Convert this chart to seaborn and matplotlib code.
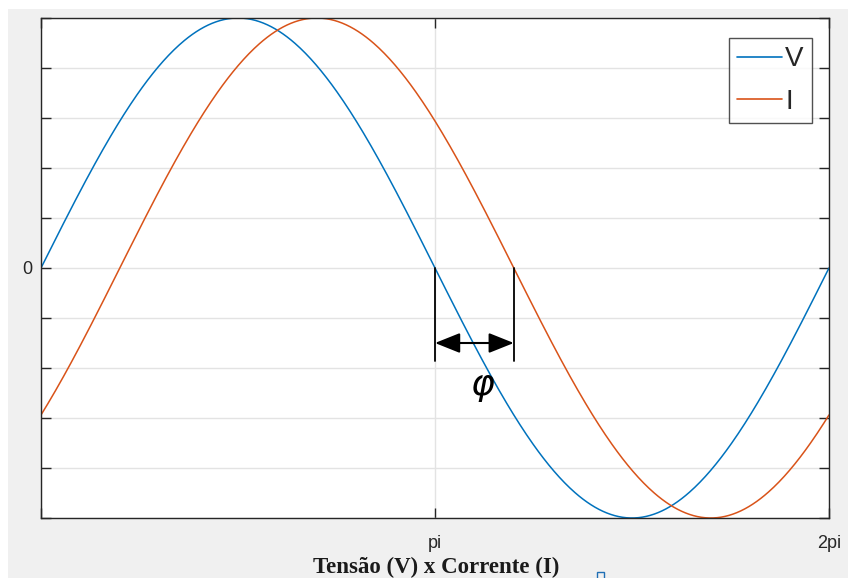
import numpy as np
import pandas as pd
import matplotlib
matplotlib.use("Agg")
import matplotlib.pyplot as plt
import seaborn as sns
from matplotlib.patches import Rectangle

# ---- data ----
series_names = ["V", "I"]
amplitudes = [1.0, 1.0]
phase_shifts = [0.0, 0.2 * np.pi]        # I lags V by phi ~ pi/5
x_ticks = [0, np.pi, 2 * np.pi]
x_tick_labels = ["", "pi", "2pi"]
y_ticks = [-1.0, -0.8, -0.6, -0.4, -0.2, 0.0, 0.2, 0.4, 0.6, 0.8, 1.0]
y_tick_labels = ["", "", "", "", "", "0", "", "", "", "", ""]
title_text = "Tensão (V) x Corrente (I)"
phi_label = r"$\varphi$"

x = np.linspace(0, 2 * np.pi, 600)
frames = []
for name, amp, ph in zip(series_names, amplitudes, phase_shifts):
    frames.append(pd.DataFrame({"x": x, "y": amp * np.sin(x - ph), "serie": name}))
df = pd.concat(frames, ignore_index=True)

colors = {"V": "#0072BD", "I": "#D95319"}

sns.set_theme(style="white")
plt.rcParams["font.family"] = ["Liberation Sans", "DejaVu Sans"]

W, H = 848, 578
fig = plt.figure(figsize=(W / 100, H / 100), dpi=100, facecolor="white")
# gray MATLAB-like figure background
fig.patches.append(Rectangle((8 / W, 0), 1, 1 - 9 / H, transform=fig.transFigure,
                             facecolor="#f0f0f0", edgecolor="none", zorder=-10))

ax = fig.add_axes([41 / W, (H - 518) / H, (829 - 41) / W, (518 - 18) / H])
ax.set_facecolor("white")

sns.lineplot(data=df, x="x", y="y", hue="serie", palette=colors, ax=ax,
             linewidth=1.1, legend=False, sort=False, estimator=None)

ax.set_xlim(0, 2 * np.pi)
ax.set_ylim(-1, 1)
ax.set_xticks(x_ticks)
ax.set_xticklabels(x_tick_labels)
ax.set_yticks(y_ticks)
ax.set_yticklabels(y_tick_labels)
ax.set_xlabel("")
ax.set_ylabel("")
ax.grid(True, color="#e3e3e3", linewidth=1.0)
ax.set_axisbelow(True)
ax.tick_params(axis="both", direction="in", length=7, width=1, color="#262626",
               labelsize=13, labelcolor="#262626", top=True, right=True,
               bottom=True, left=True)
ax.tick_params(axis="x", pad=12)
ax.tick_params(axis="y", pad=6.5)
for s in ax.spines.values():
    s.set_visible(True)
    s.set_color("#262626")
    s.set_linewidth(1.0)

# phase annotation
phi = phase_shifts[1]
ax.plot([np.pi, np.pi], [0, -0.37], color="black", lw=1.3)
ax.plot([np.pi + phi, np.pi + phi], [0, -0.37], color="black", lw=1.3)
ax.annotate("", xy=(np.pi, -0.30), xytext=(np.pi + phi, -0.30),
            arrowprops=dict(arrowstyle="<|-|>,head_length=0.7,head_width=0.28",
                            color="black", lw=1.5,
                            mutation_scale=22, shrinkA=0, shrinkB=0))
ax.text(np.pi + phi * 0.6, -0.475, phi_label, fontsize=26, ha="center", va="center",
        color="black")

# legend
handles = [plt.Line2D([], [], color=colors[n], lw=1.2) for n in series_names]
leg = ax.legend(handles, series_names, loc="upper right",
                bbox_to_anchor=((812 - 41) / 788, 1 - 20 / 500),
                borderaxespad=0, fontsize=20, frameon=True, fancybox=False,
                edgecolor="#262626", handlelength=1.62, handletextpad=0.1,
                borderpad=0.3, labelspacing=0.6)
leg.get_frame().set_linewidth(1.0)

# title at the bottom
fig.text(436 / W, 1 - 573 / H, title_text, ha="center", va="baseline",
         fontsize=16.5, fontweight="bold", family="Liberation Serif", color="#1a1a1a")
# small blue square marker
fig.patches.append(Rectangle((597 / W, 1 - 579 / H), 7 / W, 7 / H, transform=fig.transFigure,
                             facecolor="none", edgecolor="#1f6fb5", lw=1.0))

fig.savefig("out.png", dpi=100, facecolor=fig.get_facecolor())
